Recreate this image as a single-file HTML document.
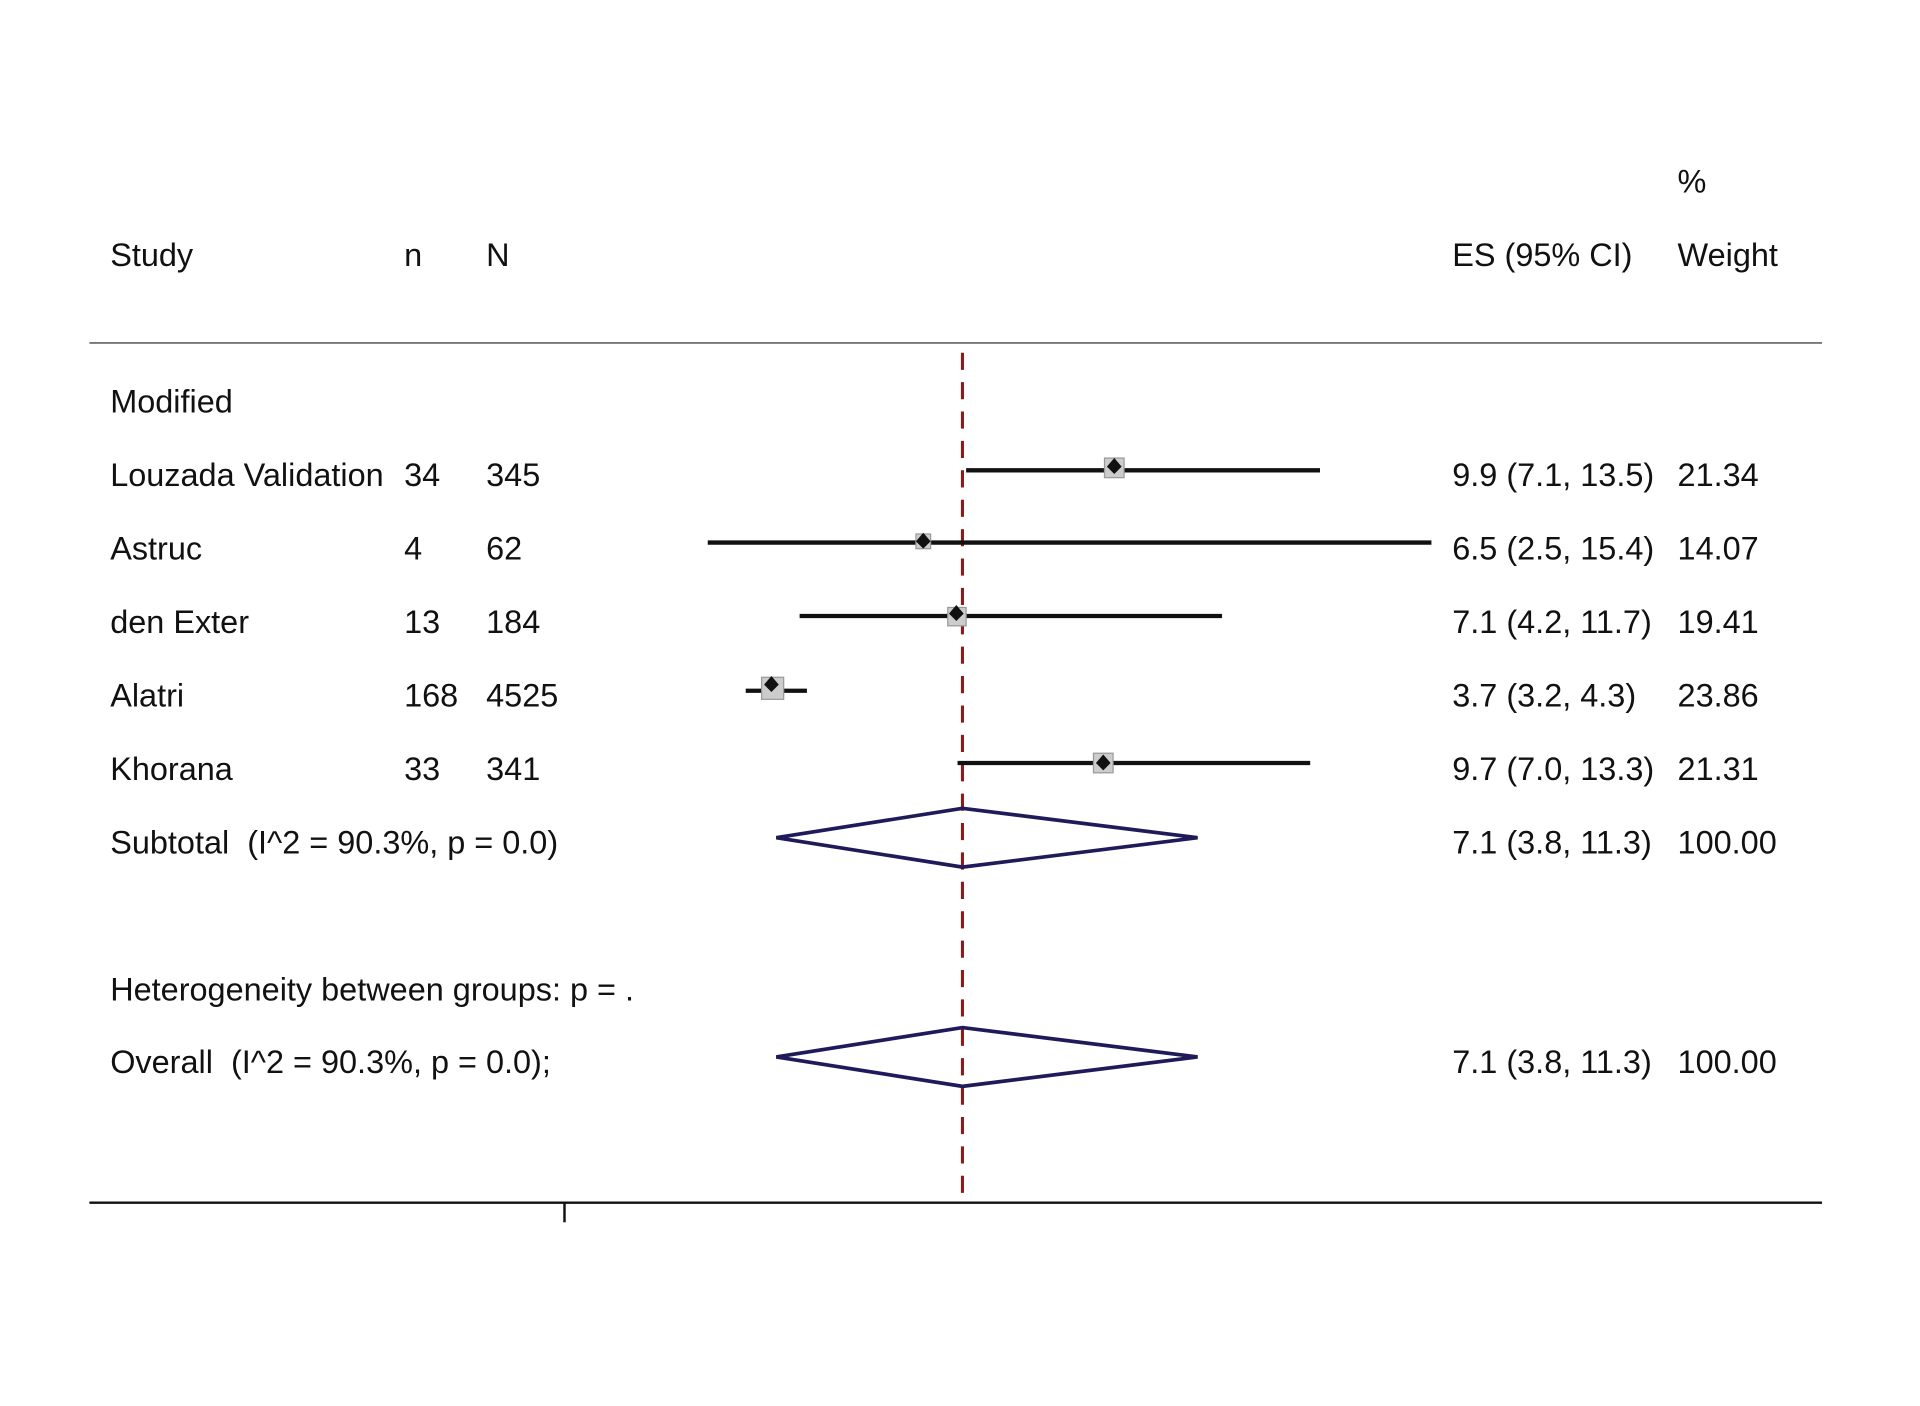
<!DOCTYPE html>
<html><head><meta charset="utf-8"><style>
html,body{margin:0;padding:0;background:#fff;}
svg{display:block;}
text{font-family:"Liberation Sans",Arial,sans-serif;font-size:26.5px;fill:#111;white-space:pre;}
</style></head><body>
<svg width="1920" height="1406" viewBox="0 0 1568 1148" preserveAspectRatio="none">
<rect width="1568" height="1148" fill="#fff"/>
<text x="1370" y="157">%</text>
<text x="90" y="217">Study</text>
<text x="330" y="217">n</text>
<text x="397" y="217">N</text>
<text x="1186" y="217">ES (95% CI)</text>
<text x="1370" y="217">Weight</text>
<line x1="73" y1="280" x2="1488" y2="280" stroke="#777" stroke-width="1.5"/>
<line x1="786" y1="288" x2="786" y2="982" stroke="#8b1a1a" stroke-width="2.5" stroke-dasharray="14,10"/>
<g>
<text x="90" y="337">Modified</text>
<text x="90" y="397">Louzada Validation</text><text x="330" y="397">34</text><text x="397" y="397">345</text><text x="1186" y="397">9.9 (7.1, 13.5)</text><text x="1370" y="397">21.34</text>
<text x="90" y="457">Astruc</text><text x="330" y="457">4</text><text x="397" y="457">62</text><text x="1186" y="457">6.5 (2.5, 15.4)</text><text x="1370" y="457">14.07</text>
<text x="90" y="517">den Exter</text><text x="330" y="517">13</text><text x="397" y="517">184</text><text x="1186" y="517">7.1 (4.2, 11.7)</text><text x="1370" y="517">19.41</text>
<text x="90" y="577">Alatri</text><text x="330" y="577">168</text><text x="397" y="577">4525</text><text x="1186" y="577">3.7 (3.2, 4.3)</text><text x="1370" y="577">23.86</text>
<text x="90" y="637">Khorana</text><text x="330" y="637">33</text><text x="397" y="637">341</text><text x="1186" y="637">9.7 (7.0, 13.3)</text><text x="1370" y="637">21.31</text>
<text x="90" y="697" xml:space="preserve">Subtotal  (I^2 = 90.3%, p = 0.0)</text><text x="1186" y="697">7.1 (3.8, 11.3)</text><text x="1370" y="697">100.00</text>
<text x="90" y="817">Heterogeneity between groups: p = .</text>
<text x="90" y="876" xml:space="preserve">Overall  (I^2 = 90.3%, p = 0.0);</text><text x="1186" y="876">7.1 (3.8, 11.3)</text><text x="1370" y="876">100.00</text>
</g>
<g stroke="#111" stroke-width="3.5">
<line x1="789" y1="384" x2="1078" y2="384"/>
<line x1="578" y1="443" x2="1169" y2="443"/>
<line x1="653" y1="503" x2="998" y2="503"/>
<line x1="609" y1="564" x2="659" y2="564"/>
<line x1="782" y1="623" x2="1070" y2="623"/>
</g>
<g fill="#ccc" stroke="#999" stroke-width="1">
<rect x="902" y="374" width="16" height="16"/>
<rect x="748" y="436" width="12" height="12"/>
<rect x="774" y="496" width="15" height="15"/>
<rect x="622" y="553" width="18" height="18"/>
<rect x="893" y="615" width="16" height="16"/>
</g>
<g fill="#111">
<path d="M910 374 l6 7 -6 6 -6 -6z"/>
<path d="M754 435 l6 7 -6 6 -6 -6z"/>
<path d="M781 494 l6 7 -6 6 -6 -6z"/>
<path d="M630 552 l6 7 -6 6 -6 -6z"/>
<path d="M901 616 l6 7 -6 6 -6 -6z"/>
</g>
<g fill="none" stroke="#1f1a5a" stroke-width="3">
<path d="M634 684 L786 660 L978 684 L786 708 Z"/>
<path d="M634 863 L786 839 L978 863 L786 887 Z"/>
</g>
<line x1="73" y1="982" x2="1488" y2="982" stroke="#111" stroke-width="2"/>
<line x1="461" y1="982" x2="461" y2="998" stroke="#111" stroke-width="2"/>
</svg>
</body></html>
